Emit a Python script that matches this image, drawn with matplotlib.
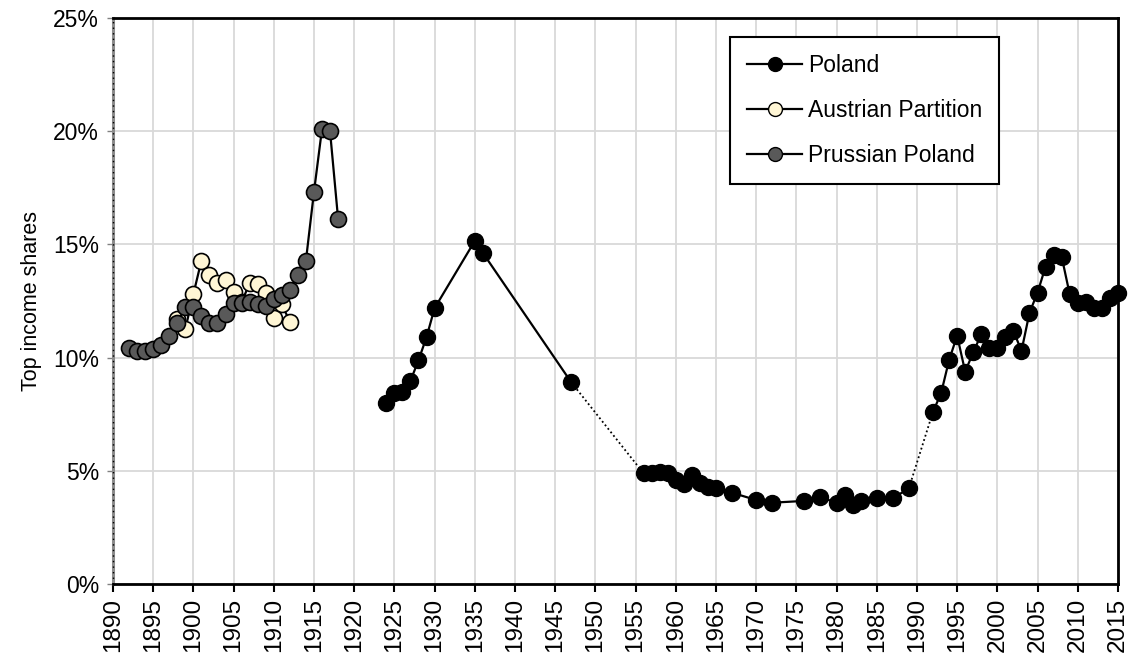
import matplotlib
matplotlib.use("Agg")
import matplotlib.pyplot as plt
from matplotlib.lines import Line2D

plt.rcParams['font.family'] = ['Liberation Sans', 'DejaVu Sans']

# Poland (top income shares, %)
poland_years = [1924, 1925, 1926, 1927, 1928, 1929, 1930, 1935, 1936, 1947,
                1956, 1957, 1958, 1959, 1960, 1961, 1962, 1963, 1964, 1965,
                1967, 1970, 1972, 1976, 1978, 1980, 1981, 1982, 1983, 1985,
                1987, 1989,
                1992, 1993, 1994, 1995, 1996, 1997, 1998, 1999, 2000, 2001,
                2002, 2003, 2004, 2005, 2006, 2007, 2008, 2009, 2010, 2011,
                2012, 2013, 2014, 2015]
poland_vals = [8.01, 8.45, 8.5, 8.97, 9.88, 10.9, 12.18, 15.15, 14.63, 8.91,
               4.89, 4.89, 4.96, 4.91, 4.59, 4.42, 4.81, 4.45, 4.30, 4.23,
               4.03, 3.71, 3.59, 3.67, 3.83, 3.59, 3.93, 3.49, 3.66, 3.78,
               3.78, 4.23,
               7.61, 8.42, 9.89, 10.97, 9.38, 10.23, 11.03, 10.41, 10.41, 10.92,
               11.19, 10.29, 11.98, 12.87, 14.02, 14.53, 14.46, 12.80, 12.40, 12.47,
               12.18, 12.20, 12.62, 12.87]

# Austrian Partition
austria_years = [1898, 1899, 1900, 1901, 1902, 1903, 1904, 1905, 1906, 1907,
                 1908, 1909, 1910, 1911, 1912]
austria_vals = [11.69, 11.26, 12.80, 14.28, 13.63, 13.28, 13.43, 12.91, 12.45, 13.28,
                13.25, 12.84, 11.73, 12.35, 11.59]

# Prussian Poland
prussia_years = list(range(1892, 1919))
prussia_vals = [10.41, 10.29, 10.29, 10.37, 10.56, 10.95, 11.54, 12.22, 12.22, 11.84,
                11.51, 11.54, 11.92, 12.40, 12.40, 12.45, 12.37, 12.30, 12.60, 12.75,
                13.00, 13.63, 14.28, 17.31, 20.10, 20.00, 16.14]

x_ticks = list(range(1890, 2016, 5))
y_ticks = [0, 5, 10, 15, 20, 25]


def segments(years, vals, breaks):
    """Split series into solid segments after the given break years."""
    segs = []
    cur_x, cur_y = [], []
    for x, y in zip(years, vals):
        if cur_x and cur_x[-1] in breaks:
            segs.append((cur_x, cur_y))
            cur_x, cur_y = [], []
        cur_x.append(x)
        cur_y.append(y)
    segs.append((cur_x, cur_y))
    return segs


fig = plt.figure(figsize=(11.33, 6.53), dpi=100)
ax = fig.add_axes([0.0997, 0.1057, 0.887, 0.8667])

ms = 11.5
lw = 1.6

# dotted connectors across gaps
for a, b in [(1947, 1956), (1989, 1992)]:
    ia, ib = poland_years.index(a), poland_years.index(b)
    ax.plot([poland_years[ia], poland_years[ib]], [poland_vals[ia], poland_vals[ib]],
            color='black', lw=1.3, linestyle=(0, (1, 1.5)), zorder=2)

for sx, sy in segments(poland_years, poland_vals, {1947, 1989}):
    ax.plot(sx, sy, color='black', lw=lw, marker='o', ms=ms,
            mfc='black', mec='black', mew=1, zorder=3, clip_on=False)

ax.plot(austria_years, austria_vals, color='black', lw=lw, marker='o', ms=ms,
        mfc='#FFF6D5', mec='black', mew=1.2, zorder=3)
ax.plot(prussia_years, prussia_vals, color='black', lw=lw, marker='o', ms=ms,
        mfc='#595959', mec='black', mew=1.2, zorder=4)

ax.set_xlim(1890, 2015)
ax.set_ylim(0, 25)
ax.set_xticks(x_ticks)
ax.set_xticklabels([str(t) for t in x_ticks], rotation=90, fontsize=17.5)
ax.set_yticks(y_ticks)
ax.set_yticklabels([f'{t}%' for t in y_ticks], fontsize=16.5)
ax.set_ylabel('Top income shares', fontsize=15.5, labelpad=8)

ax.grid(True, color='#D9D9D9', lw=1.3)
ax.set_axisbelow(True)

ax.tick_params(axis='x', direction='out', length=6, width=1.5, color='black', pad=4)
ax.tick_params(axis='y', direction='out', length=4, width=1, color='#808080', pad=6)

for s in ['top', 'right', 'bottom']:
    ax.spines[s].set_color('black')
    ax.spines[s].set_linewidth(2)
ax.spines['left'].set_color('#8C8C8C')
ax.spines['left'].set_linewidth(2.2)
ax.axvline(1890, color='black', lw=1, linestyle=(0, (1, 3)), zorder=5, clip_on=False)

handles = [
    Line2D([], [], color='black', lw=1.6, marker='o', ms=10, mfc='black', mec='black'),
    Line2D([], [], color='black', lw=1.6, marker='o', ms=10, mfc='#FFF6D5', mec='black'),
    Line2D([], [], color='black', lw=1.6, marker='o', ms=10, mfc='#595959', mec='black'),
]
leg = ax.legend(handles, ['Poland', 'Austrian Partition', 'Prussian Poland'],
                loc='upper left', bbox_to_anchor=(0.614, 0.966), fontsize=16.5,
                frameon=True, fancybox=False, edgecolor='black', framealpha=1,
                handlelength=2.4, handletextpad=0.25, labelspacing=0.95,
                borderpad=0.75, borderaxespad=0)
leg.get_frame().set_linewidth(1.5)
leg._legend_box.align = 'left'

fig.savefig('out.png', dpi=100)
